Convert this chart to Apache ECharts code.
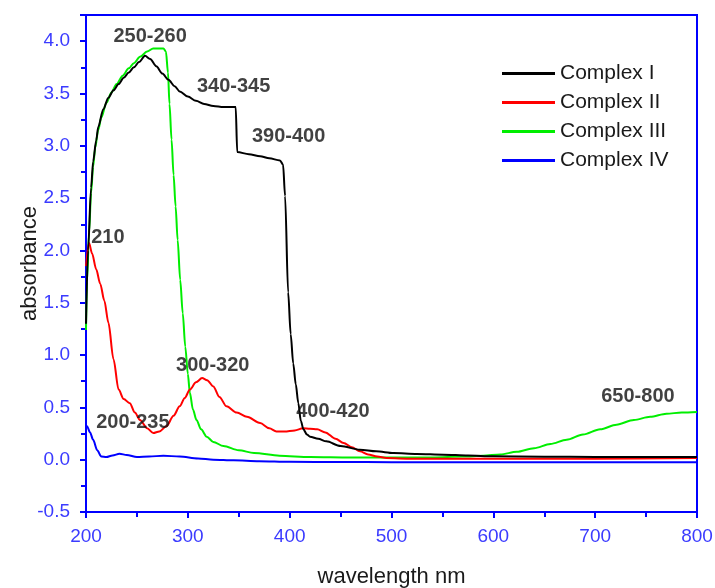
<!DOCTYPE html>
<html>
<head>
<meta charset="utf-8">
<script src="https://cdn.jsdelivr.net/npm/echarts@6/dist/echarts.min.js"></script>
<style>html,body{margin:0;padding:0;background:#fff;}#chart{width:715px;height:588px;}</style>
</head>
<body>
<div id="chart"></div>
<script>
// ---- Data ----
var seriesNames = ['Complex I', 'Complex II', 'Complex III', 'Complex IV'];

var wl1 = [200, 202, 205, 207, 210, 212, 217, 222, 227, 232, 237, 242, 247, 252, 258, 263, 269, 275, 281, 287, 292, 300, 308, 316, 325, 335, 347, 348.5, 360, 371, 380, 390.5, 393.5, 395.5, 398.5, 401, 403.5, 406, 408.5, 411, 413.5, 417, 420, 428, 436, 450, 469, 485, 502, 525, 551, 575, 600, 650, 700, 750, 800];
var abs1 = [1.3, 2.0, 2.6, 2.85, 3.05, 3.18, 3.35, 3.46, 3.53, 3.59, 3.65, 3.70, 3.75, 3.80, 3.86, 3.83, 3.76, 3.69, 3.63, 3.57, 3.52, 3.47, 3.43, 3.40, 3.38, 3.37, 3.37, 2.94, 2.92, 2.90, 2.88, 2.86, 2.82, 2.52, 1.60, 1.20, 0.92, 0.72, 0.54, 0.37, 0.29, 0.24, 0.22, 0.20, 0.175, 0.13, 0.096, 0.08, 0.064, 0.055, 0.048, 0.04, 0.032, 0.028, 0.026, 0.025, 0.025];

var wl2 = [200, 203, 206, 210, 214, 218, 222, 227, 232, 237, 243, 248, 253, 260, 266, 272, 279, 286, 292, 297, 302, 308, 314, 319, 325, 331, 338, 348, 358, 371, 380, 387, 395, 405, 413, 420, 427, 435, 445, 453, 461, 469, 477, 486, 495, 520, 600, 700, 800];
var abs2 = [1.85, 2.07, 1.97, 1.82, 1.68, 1.52, 1.31, 0.96, 0.67, 0.58, 0.54, 0.45, 0.38, 0.30, 0.255, 0.27, 0.32, 0.42, 0.51, 0.59, 0.67, 0.74, 0.78, 0.76, 0.70, 0.60, 0.51, 0.45, 0.41, 0.35, 0.30, 0.27, 0.27, 0.28, 0.30, 0.295, 0.29, 0.26, 0.20, 0.16, 0.12, 0.08, 0.05, 0.03, 0.015, 0.01, 0.01, 0.01, 0.015];

var wl3 = [200, 201, 203, 205, 207, 209, 212, 215, 220, 225, 230, 236, 242, 247, 253, 260, 266, 272, 276, 278.5, 280.5, 282, 284, 286, 288, 290, 292.5, 295, 297.5, 300, 302, 305, 308.5, 313, 318.5, 325, 335, 350, 365, 390, 420, 460, 500, 540, 570, 590, 607, 623, 640, 656, 672, 688, 705, 721, 738, 754, 770, 785, 800];
var abs3 = [1.24, 1.7, 2.17, 2.55, 2.8, 2.98, 3.15, 3.27, 3.41, 3.51, 3.59, 3.67, 3.74, 3.79, 3.85, 3.90, 3.93, 3.93, 3.93, 3.90, 3.70, 3.40, 3.06, 2.72, 2.42, 2.10, 1.72, 1.40, 1.08, 0.82, 0.64, 0.48, 0.38, 0.29, 0.22, 0.17, 0.13, 0.09, 0.064, 0.038, 0.025, 0.02, 0.02, 0.022, 0.03, 0.038, 0.05, 0.075, 0.11, 0.15, 0.19, 0.24, 0.29, 0.335, 0.38, 0.41, 0.44, 0.45, 0.455];

var wl4 = [200, 201, 204, 207, 211, 215, 220, 226, 233, 240, 250, 262, 276, 292, 310, 325, 345, 370, 400, 450, 500, 600, 700, 800];
var abs4 = [0.30, 0.32, 0.26, 0.19, 0.09, 0.03, 0.025, 0.04, 0.057, 0.045, 0.025, 0.03, 0.038, 0.03, 0.012, 0.0, -0.006, -0.014, -0.02, -0.022, -0.024, -0.025, -0.025, -0.025];

var annotationText = ['250-260', '340-345', '390-400', '210', '300-320', '200-235', '400-420', '650-800'];
var annotationX = [263, 345, 399, 221.5, 324.5, 246, 442.5, 742];
var annotationY = [4.04, 3.57, 3.09, 2.12, 0.90, 0.355, 0.46, 0.60];

// ---- Chart ----
function pairs(xs, ys) { return xs.map(function (x, i) { return [x, ys[i]]; }); }
var colors = ['#000000', '#ff0000', '#00ee00', '#0000ff'];
var wls = [wl1, wl2, wl3, wl4];
var abss = [abs1, abs2, abs3, abs4];

var series = seriesNames.map(function (n, i) {
  return {
    name: n, type: 'line', data: pairs(wls[i], abss[i]),
    symbol: 'none', smooth: 0.3, smoothMonotone: 'x',
    lineStyle: { color: colors[i], width: 2 }, itemStyle: { color: colors[i] },
    z: 4 - i
  };
});
series.push({
  name: 'annotations', type: 'scatter', symbolSize: 0, silent: true,
  data: annotationText.map(function (t, i) { return { name: t, value: [annotationX[i], annotationY[i]] }; }),
  label: { show: true, position: 'inside', formatter: '{b}', color: '#111111', fontWeight: 'bold', fontSize: 20, fontFamily: 'Liberation Sans' },
  z: 10
});

var axisBlue = '#0000ff';
var labelBlue = '#3b3bff';
var chart = echarts.init(document.getElementById('chart'), null, { renderer: 'canvas' });
chart.setOption({
  backgroundColor: '#ffffff',
  animation: false,
  textStyle: { fontFamily: 'Liberation Sans' },
  grid: { left: 86, right: 18, top: 15, bottom: 76, containLabel: false, outerBoundsMode: 'none',
    show: true, borderColor: axisBlue, borderWidth: 2, backgroundColor: 'transparent' },
  legend: {
    data: seriesNames, orient: 'vertical', left: 497, top: 58, itemWidth: 53, itemHeight: 3, itemGap: 8,
    icon: 'rect',
    textStyle: { fontSize: 21, color: '#1a1a1a', fontFamily: 'Liberation Sans' }
  },
  xAxis: {
    type: 'value', min: 200, max: 800, interval: 100,
    name: 'wavelength nm', nameLocation: 'middle', nameGap: 54, nameMoveOverlap: false,
    nameTextStyle: { fontSize: 22, color: '#1a1a1a' },
    axisLine: { show: true, onZero: false, lineStyle: { color: axisBlue, width: 2 } },
    axisTick: { show: true, inside: false, length: 6, lineStyle: { color: axisBlue, width: 2 } },
    minorTick: { show: true, splitNumber: 2, length: 5, lineStyle: { color: axisBlue, width: 2 } },
    axisLabel: { fontSize: 19, color: labelBlue, margin: 15 },
    splitLine: { show: false }
  },
  yAxis: {
    type: 'value', min: -0.5, max: 4.25, interval: 0.5,
    name: 'absorbance', nameLocation: 'middle', nameGap: 45, nameMoveOverlap: false,
    nameTextStyle: { fontSize: 22, color: '#1a1a1a' },
    axisLine: { show: true, onZero: false, lineStyle: { color: axisBlue, width: 2 } },
    axisTick: { show: true, inside: false, length: 6, lineStyle: { color: axisBlue, width: 2 } },
    minorTick: { show: true, splitNumber: 2, length: 5, lineStyle: { color: axisBlue, width: 2 } },
    axisLabel: { fontSize: 19, color: labelBlue, margin: 16, showMaxLabel: false,
      formatter: function (v) { return v.toFixed(1); } },
    splitLine: { show: false }
  },
  series: series
});
</script>
</body>
</html>
